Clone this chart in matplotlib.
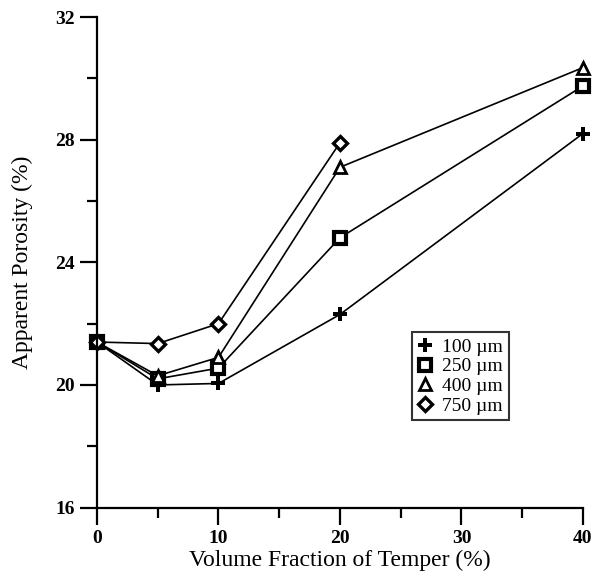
#!/usr/bin/env python3

import matplotlib
matplotlib.use("Agg")
import matplotlib.pyplot as plt
from matplotlib.ticker import MultipleLocator

OUTPUT_FNAME = "out.png"

# volume fraction of temper (%)
temper = [0, 5, 10, 20, 40]

# apparent porosity (%) per temper grain size
porosity_100 = [21.4, 20.0, 20.05, 22.3, 28.2]
porosity_250 = [21.4, 20.2, 20.55, 24.8, 29.75]
porosity_400 = [21.4, 20.3, 20.9, 27.1, 30.35]
porosity_750 = [21.4, 21.35, 22.0, 27.9]

series = [
    ("100 \u00b5m", porosity_100, "P"),
    ("250 \u00b5m", porosity_250, "s"),
    ("400 \u00b5m", porosity_400, "^"),
    ("750 \u00b5m", porosity_750, "D"),
]

plt.rcParams["font.family"] = ["Liberation Serif", "DejaVu Serif"]

fig = plt.figure(figsize=(5.93, 5.79), dpi=100)
ax = fig.add_axes([0.1636, 0.1233, 0.8194, 0.8473])

marker_style = {
    "P": dict(markersize=10, markerfacecolor="black", markeredgewidth=0),
    "s": dict(markersize=8.5, markerfacecolor="white", markeredgewidth=3.0),
    "^": dict(markersize=8, markerfacecolor="white", markeredgewidth=2.0),
    "D": dict(markersize=7, markerfacecolor="white", markeredgewidth=2.4),
}

for label, values, marker in series:
    ax.plot(temper[:len(values)], values, color="black", linewidth=1.2,
            marker=marker, markeredgecolor="black", label=label,
            clip_on=False, **marker_style[marker])

ax.set_xlim(0, 40)
ax.set_ylim(16, 32)

ax.xaxis.set_major_locator(MultipleLocator(10))
ax.xaxis.set_minor_locator(MultipleLocator(5))
ax.yaxis.set_major_locator(MultipleLocator(4))
ax.yaxis.set_minor_locator(MultipleLocator(2))

ax.spines["top"].set_visible(False)
ax.spines["right"].set_visible(False)
for side in ("left", "bottom"):
    ax.spines[side].set_linewidth(1.6)

ax.tick_params(which="major", direction="out", length=12, width=1.6,
               labelsize=14, pad=4)
ax.tick_params(which="minor", direction="out", length=7, width=1.6)
for lbl in ax.get_xticklabels() + ax.get_yticklabels():
    lbl.set_fontweight("bold")

ax.set_xlabel("Volume Fraction of Temper (%)", fontsize=17, labelpad=2)
ax.set_ylabel("Apparent Porosity (%)", fontsize=17, labelpad=16)

leg = ax.legend(loc="upper left", bbox_to_anchor=(0.648, 0.357),
                frameon=True, fancybox=False, fontsize=14,
                handlelength=0.8, handletextpad=0.45, borderpad=0.3,
                labelspacing=0.1, borderaxespad=0)
leg.get_frame().set_edgecolor("black")
leg.get_frame().set_linewidth(1.5)
for line in leg.get_lines():
    line.set_linestyle("none")

fig.savefig(OUTPUT_FNAME, dpi=100)
